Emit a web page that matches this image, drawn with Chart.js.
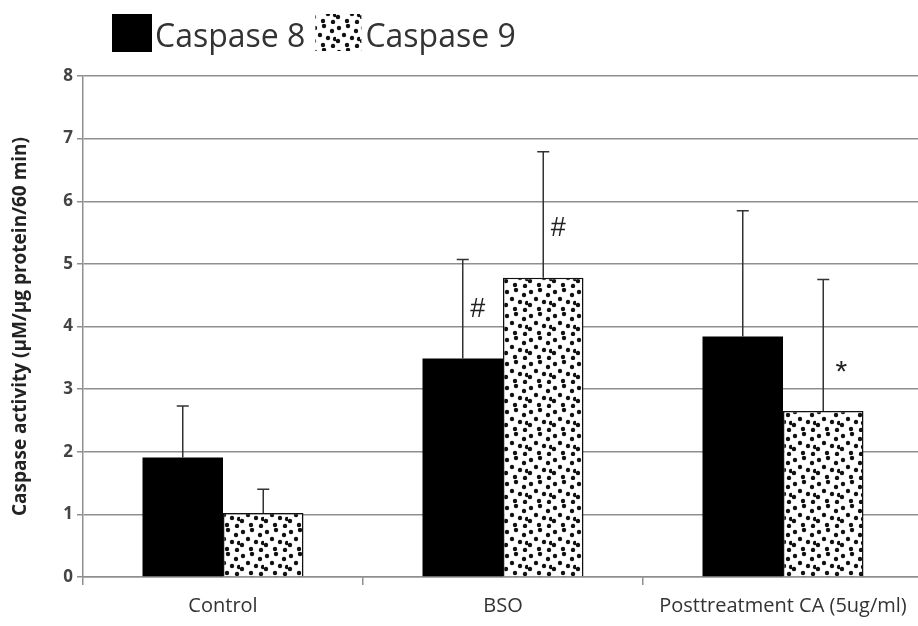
<!DOCTYPE html>
<html>
<head>
<meta charset="utf-8">
<script src="https://cdn.jsdelivr.net/npm/chart.js@4.4.1/dist/chart.umd.min.js"></script>
<style>
  html, body { margin: 0; padding: 0; background: #fff; overflow: hidden; }
  #wrap { position: relative; width: 930px; height: 626px; }
</style>
</head>
<body>
<div id="wrap"><canvas id="chart"></canvas></div>
<script>
const groups = ['Control', 'BSO', 'Posttreatment CA (5ug/ml)'];
const caspase8 = [1.91, 3.49, 3.84];
const caspase9 = [1.02, 4.78, 2.65];
const caspase8Err = [0.82, 1.58, 2.01];
const caspase9Err = [0.38, 2.01, 2.10];
const caspase8Marks = ['', '#', ''];
const caspase9Marks = ['', '#', '*'];
const yTicks = [0, 1, 2, 3, 4, 5, 6, 7, 8];

// dotted fill like the original
function dotPattern() {
  const c = document.createElement('canvas');
  c.width = 24; c.height = 24;
  const g = c.getContext('2d');
  g.fillStyle = '#fff';
  g.fillRect(0, 0, 24, 24);
  g.fillStyle = '#111';
  [[3, 4], [12, 2], [20, 7], [8, 11], [16, 14], [2, 17], [11, 21], [21, 22], [23, 15]].forEach(([x, y]) => {
    g.beginPath();
    g.arc(x, y, 2.2, 0, Math.PI * 2);
    g.fill();
  });
  return g.createPattern(c, 'repeat');
}
const dots = dotPattern();

const errorBars = {
  id: 'errorBars',
  afterDatasetsDraw(chart) {
    const ctx = chart.ctx;
    const y = chart.scales.y;
    const errs = [caspase8Err, caspase9Err];
    const marks = [caspase8Marks, caspase9Marks];
    ctx.save();
    chart.data.datasets.forEach((ds, di) => {
      chart.getDatasetMeta(di).data.forEach((bar, i) => {
        const top = y.getPixelForValue(ds.data[i] + errs[di][i]);
        ctx.strokeStyle = '#333';
        ctx.lineWidth = 1.5;
        ctx.beginPath();
        ctx.moveTo(bar.x, bar.y);
        ctx.lineTo(bar.x, top);
        ctx.moveTo(bar.x - 6, top);
        ctx.lineTo(bar.x + 6, top);
        ctx.stroke();
        const m = marks[di][i];
        if (m) {
          ctx.fillStyle = '#222';
          ctx.font = m === '*' ? '30px "Liberation Sans"' : '27px "Liberation Sans"';
          ctx.textAlign = 'center';
          ctx.textBaseline = 'middle';
          ctx.fillText(m, bar.x + (m === '*' ? 18 : 15), bar.y - (m === '*' ? 38 : 49));
        }
      });
    });
    ctx.restore();
  }
};

const topLegend = {
  id: 'topLegend',
  afterDraw(chart) {
    const ctx = chart.ctx;
    ctx.save();
    ctx.font = '32px "Open Sans"';
    ctx.textBaseline = 'alphabetic';
    ctx.fillStyle = '#000';
    ctx.fillRect(112, 14, 40, 38);
    ctx.fillStyle = '#333';
    ctx.fillText('Caspase 8', 155, 47);
    const x2 = 155 + ctx.measureText('Caspase 8').width + 10;
    ctx.fillStyle = dots;
    ctx.fillRect(x2, 14, 46, 37);
    ctx.fillStyle = '#333';
    ctx.fillText('Caspase 9', x2 + 50, 47);
    ctx.restore();
  }
};

new Chart(document.getElementById('chart'), {
  type: 'bar',
  data: {
    labels: groups,
    datasets: [
      {
        label: 'Caspase 8',
        data: caspase8,
        backgroundColor: '#000',
        borderColor: '#000',
        borderWidth: 0,
      },
      {
        label: 'Caspase 9',
        data: caspase9,
        backgroundColor: dots,
        borderColor: '#111',
        borderWidth: 1.5,
      },
    ],
  },
  options: {
    responsive: true,
    maintainAspectRatio: false,
    animation: false,
    devicePixelRatio: 1,
    layout: { padding: { top: 76, right: 7, bottom: 8, left: 0 } },
    datasets: { bar: { barPercentage: 1, categoryPercentage: 0.575 } },
    plugins: { legend: { display: false }, tooltip: { enabled: false } },
    scales: {
      x: {
        afterFit: (s) => { s.height = 41; },
        grid: { drawOnChartArea: false, drawTicks: true, tickLength: 8, color: '#8f8f8f', lineWidth: 1.5 },
        border: { color: '#8f8f8f', width: 1.5 },
        ticks: { color: '#333', padding: 9, font: { family: 'Open Sans', size: 20 } },
      },
      y: {
        min: 0,
        max: 8,
        afterBuildTicks: (s) => { s.ticks = yTicks.map(v => ({ value: v })); },
        afterFit: (s) => { s.width = 83; },
        grid: { color: '#8f8f8f', lineWidth: 1.5, tickLength: 6 },
        border: { color: '#8f8f8f', width: 1.5 },
        ticks: { color: '#444', padding: 4, font: { family: 'Open Sans', size: 17, weight: 'bold' } },
        title: {
          display: true,
          text: 'Caspase activity (μM/μg protein/60 min)',
          color: '#222',
          padding: { top: 9, bottom: 0 },
          font: { family: 'Open Sans', size: 19, weight: 'bold' },
        },
      },
    },
  },
  plugins: [errorBars, topLegend],
});
</script>
</body>
</html>
